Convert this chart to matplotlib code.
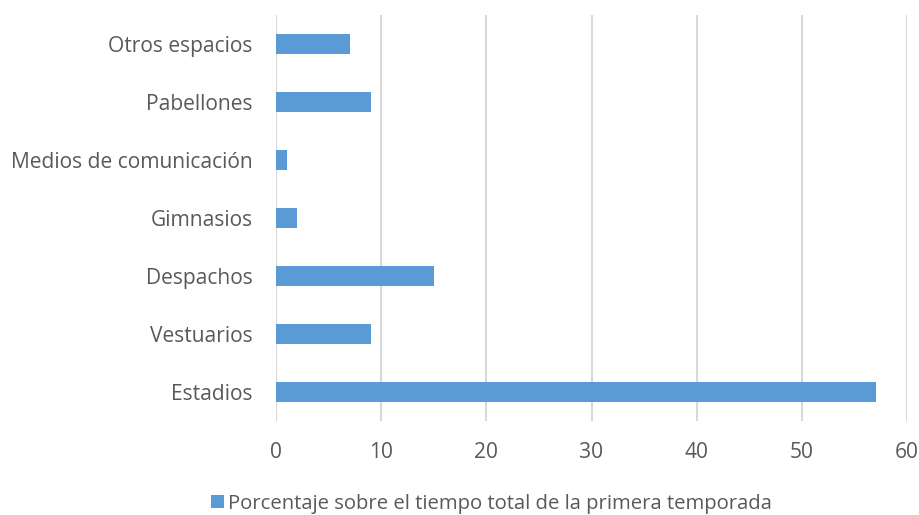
import matplotlib
matplotlib.use("Agg")
import matplotlib.pyplot as plt
from matplotlib.patches import Patch

categories = ["Estadios", "Vestuarios", "Despachos", "Gimnasios",
              "Medios de comunicación", "Pabellones", "Otros espacios"]
values = [57, 9, 15, 2, 1, 9, 7]
xticks = [0, 10, 20, 30, 40, 50, 60]
series_name = "Porcentaje sobre el tiempo total de la primera temporada"

bar_color = "#5B9BD5"
grid_color = "#D9D9D9"
text_color = "#595959"

plt.rcParams["font.family"] = ["Open Sans", "DejaVu Sans"]

fig = plt.figure(figsize=(9.2, 5.15), dpi=100)
ax = fig.add_axes([0.30, 0.182, 0.686, 0.789])

ax.barh(range(len(categories)), values, height=0.35, color=bar_color, zorder=3)
ax.set_yticks(range(len(categories)))
ax.set_yticklabels(categories)
ax.set_ylim(-0.5, len(categories) - 0.5)
ax.set_xlim(0, 60)
ax.set_xticks(xticks)

ax.grid(axis="x", color=grid_color, linewidth=1.5, zorder=0)
for s in ax.spines.values():
    s.set_visible(False)
ax.tick_params(axis="both", length=0, colors=text_color, labelsize=15.1)
ax.tick_params(axis="y", pad=17)
ax.tick_params(axis="x", pad=15)

handle = Patch(facecolor=bar_color, edgecolor="none")
fig.legend([handle], [series_name], loc="center", bbox_to_anchor=(0.534, 0.022),
           frameon=False, fontsize=14.6, labelcolor=text_color,
           handlelength=0.65, handleheight=0.65, handletextpad=0.2)

fig.savefig("out.png", dpi=100)
